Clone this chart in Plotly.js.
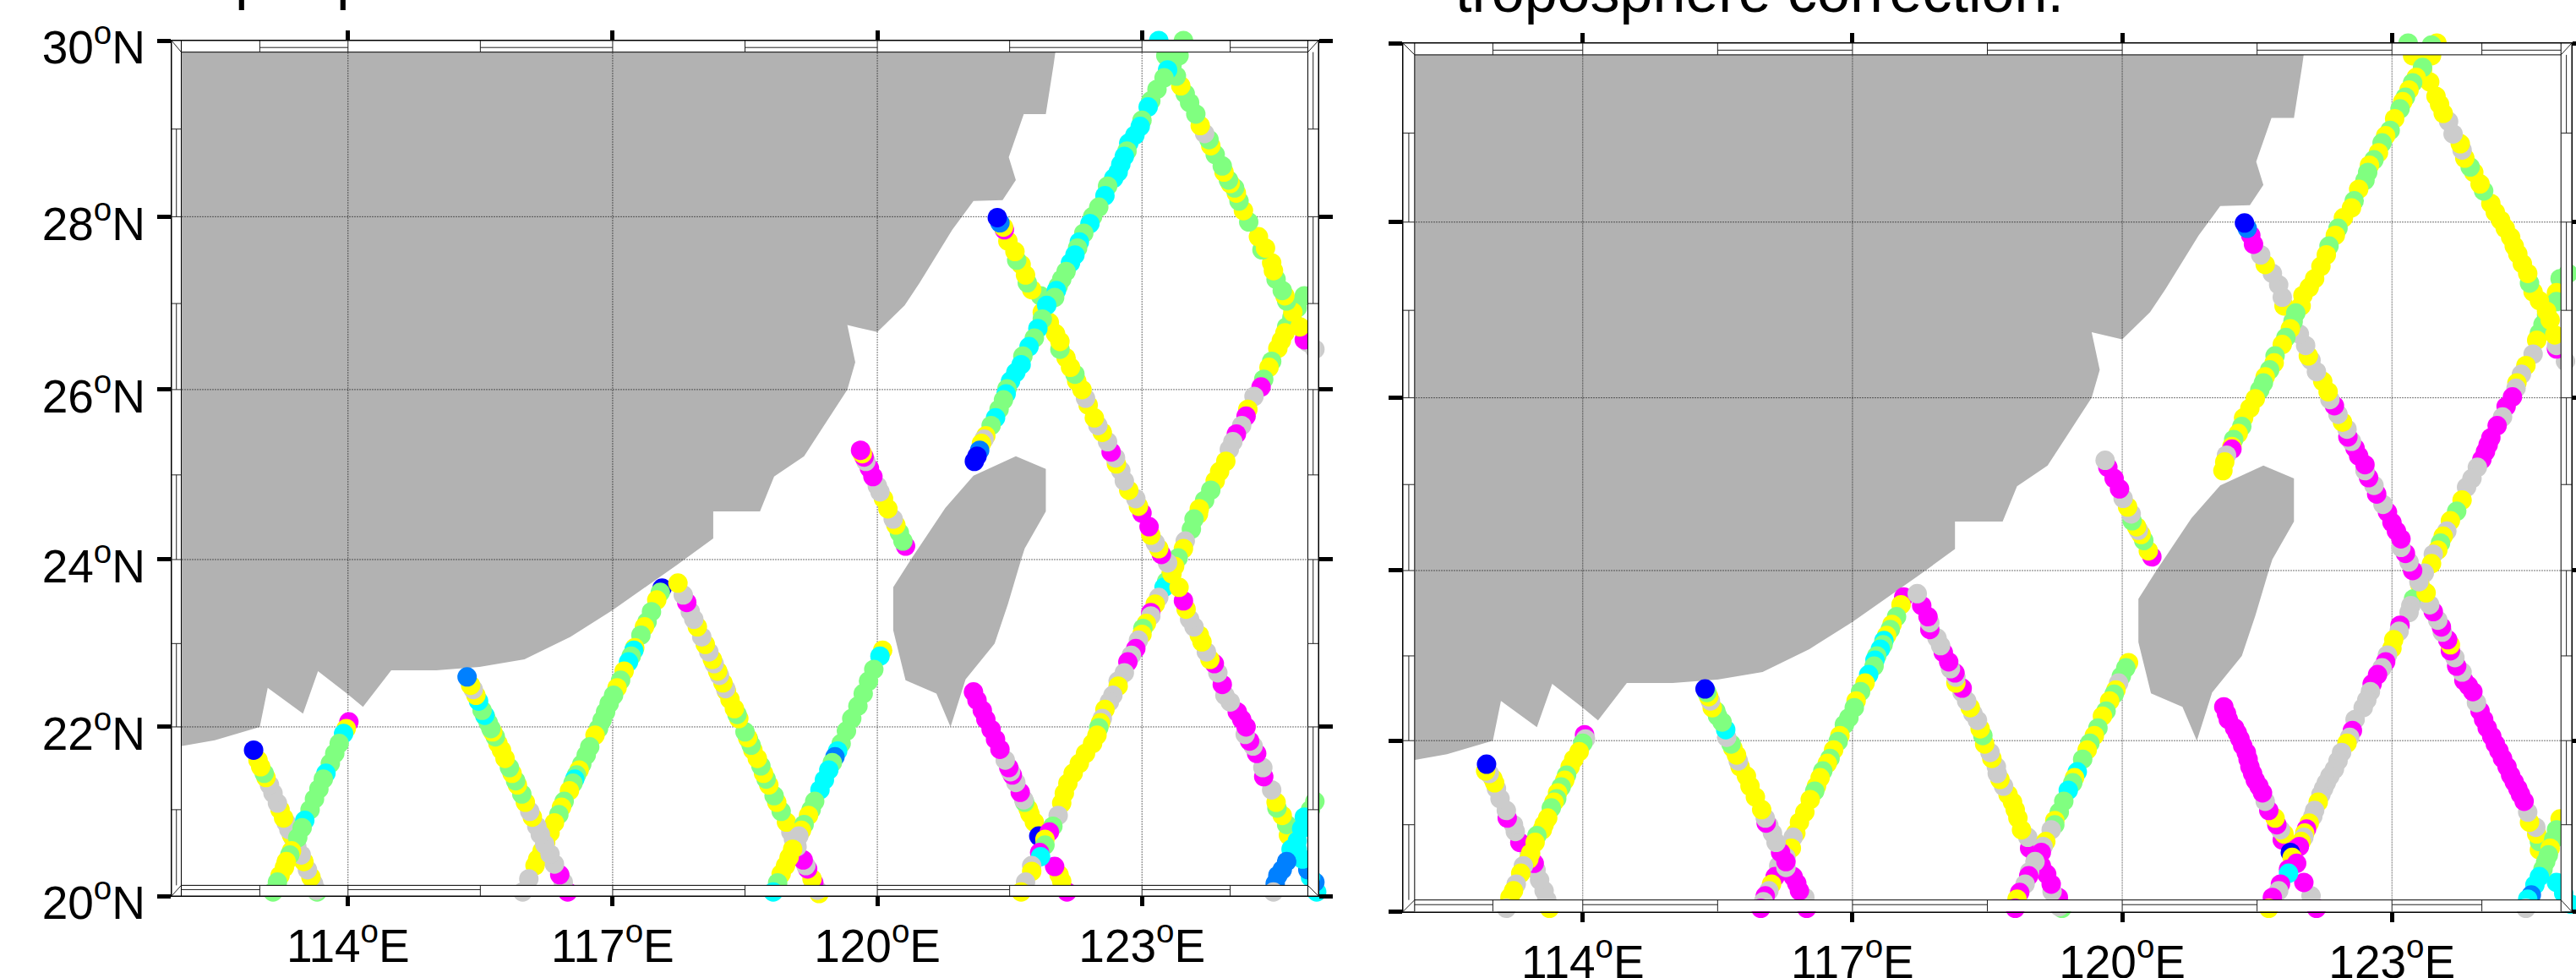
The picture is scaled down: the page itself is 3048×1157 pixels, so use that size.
<!DOCTYPE html>
<html><head><meta charset="utf-8">
<script src="https://cdn.plot.ly/plotly-3.0.1.min.js"></script>
<style>html,body{margin:0;padding:0;background:#fff;overflow:hidden}#c{width:3048px;height:1157px}</style>
</head><body><div id="c"></div>
<script>
// colour classes
const M=0,A=1,Y=2,G=3,C=4,Z=5,B=6;
const classColors=['#FF00FF','#CCCCCC','#FFFF00','#80FF80','#00FFFF','#0080FF','#0000FF'];

const lonTicks=[114,117,120,123];
const lonTickText=['114<sup>o</sup>E','117<sup>o</sup>E','120<sup>o</sup>E','123<sup>o</sup>E'];
const latGrid=[22,24,26,28];
const latTickText=['20<sup>o</sup>N','22<sup>o</sup>N','24<sup>o</sup>N','26<sup>o</sup>N','28<sup>o</sup>N','30<sup>o</sup>N'];

const mainlandLon=[122.05,122,121.91,121.66,121.49,121.57,121.42,121.09,120.85,120.48,120.31,120,119.66,119.75,119.66,119.4,119.17,118.83,118.68,118.67,118.14,118.14,117.72,117,116.52,116,115.49,115,114.49,114.17,114,113.66,113.49,113.09,113,112.49,112.12,111.9,111.9,122.1];
const mainlandLat=[30.1,29.74,29.17,29.17,28.68,28.42,28.19,28.18,27.85,27.24,26.98,26.67,26.75,26.32,26,25.58,25.22,24.98,24.6,24.57,24.57,24.25,23.93,23.4,23.08,22.81,22.72,22.68,22.68,22.24,22.39,22.67,22.16,22.47,22,21.84,21.77,21.74,30.1,30.1];
const taiwanLon=[121.57,121.91,121.91,121.67,121.63,121.48,121.33,121,120.83,120.67,120.32,120.18,120.18,120.38,120.77,121.09];
const taiwanLat=[25.22,25.07,24.57,24.13,24,23.47,23,22.57,22,22.4,22.56,23.16,23.67,24,24.61,24.99];

const cellLon=[113,114,115.5,117,118.5,120,121.5,123,124];
const cellLat=[21,22,23,24,25,26,27,28,29];
const topMid=[[113,114],[115.5,117],[118.5,120],[121.5,123],[124,125]];
const botMid=[[112,113],[114,115.5],[117,118.5],[120,121.5],[123,124]];
const leftMid=[[28,29],[26,27],[24,25],[22,23],[20,21]];
const rightMid=[[29,30],[27,28],[25,26],[23,24],[21,22]];

// ---- left panel tracks: [lat, lon, class]
const lA=[[20,113.65,G],[20.02,113.64,A],[20.1,113.61,A],[20.18,113.58,Y],[20.27,113.54,A],[20.37,113.5,Y],[20.45,113.47,A],[20.55,113.42,A],[20.65,113.38,A],[20.69,113.36,Y],[20.76,113.33,A],[20.84,113.3,A],[20.9,113.27,Y],[21,113.23,Y],[21.08,113.2,A],[21.2,113.15,A],[21.3,113.11,A],[21.39,113.07,Y],[21.44,113.05,G],[21.52,113.01,Y],[21.6,112.98,Y],[21.72,112.93,B]];
const lB=[[22.06,114.01,M],[21.98,113.98,Y],[21.92,113.95,C],[21.8,113.9,G],[21.68,113.85,G],[21.56,113.8,G],[21.44,113.75,C],[21.37,113.72,G],[21.25,113.67,G],[21.13,113.62,G],[21,113.57,G],[20.87,113.51,C],[20.78,113.48,G],[20.66,113.43,G],[20.5,113.36,Y],[20.45,113.34,G],[20.37,113.3,Y],[20.3,113.28,Y],[20.2,113.23,Y],[20.12,113.2,G],[20,113.15,G]];
const lD=[[23.66,117.56,B],[23.61,117.54,G],[23.52,117.5,Y],[23.38,117.44,G],[23.26,117.39,G],[23.2,117.36,Y],[23.1,117.32,G],[22.95,117.25,Y],[22.92,117.24,C],[22.85,117.21,G],[22.78,117.18,C],[22.67,117.13,Y],[22.56,117.09,G],[22.47,117.05,Y],[22.38,117.01,G],[22.28,116.96,G],[22.18,116.92,G],[22.08,116.88,G],[21.98,116.84,G],[21.9,116.8,Y],[21.76,116.74,G],[21.66,116.7,G],[21.55,116.65,G],[21.48,116.62,Y],[21.42,116.59,G],[21.37,116.57,C],[21.32,116.55,G],[21.23,116.51,Y],[21.1,116.45,G],[21.03,116.42,Y],[20.94,116.39,G],[20.84,116.34,Y],[20.72,116.29,Y],[20.6,116.24,Y],[20.5,116.2,Y],[20.4,116.15,Y],[20.32,116.12,Y],[20.16,116.05,A],[20,115.98,A]];
const lC=[[20,116.49,M],[20.12,116.44,A],[20.21,116.4,M],[20.34,116.34,A],[20.46,116.29,A],[20.58,116.23,A],[20.7,116.18,A],[20.8,116.14,A],[20.91,116.09,Y],[20.98,116.06,A],[21.09,116.01,Y],[21.19,115.97,G],[21.3,115.92,Y],[21.35,115.9,G],[21.44,115.86,Y],[21.51,115.83,G],[21.62,115.78,Y],[21.72,115.74,Y],[21.8,115.7,Y],[21.88,115.67,G],[21.94,115.64,Y],[21.98,115.62,G],[22.05,115.59,G],[22.12,115.56,G],[22.14,115.55,C],[22.2,115.52,G],[22.31,115.48,C],[22.38,115.45,Y],[22.45,115.42,A],[22.5,115.39,Y],[22.6,115.35,Z]];
const lE=[[19.98,119.34,Y],[20.02,119.32,A],[20.11,119.28,M],[20.16,119.26,Y],[20.28,119.21,M],[20.32,119.19,A],[20.39,119.16,M],[20.55,119.09,A],[20.64,119.05,A],[20.73,119.02,A],[20.85,118.97,Y],[20.98,118.91,G],[21.09,118.86,Y],[21.17,118.83,G],[21.3,118.77,Y],[21.37,118.74,G],[21.44,118.71,Y],[21.53,118.68,G],[21.62,118.64,Y],[21.72,118.59,Y],[21.78,118.57,G],[21.85,118.54,G],[21.87,118.53,Y],[21.94,118.5,G],[22.1,118.43,Y],[22.15,118.41,G],[22.22,118.38,Y],[22.33,118.33,Y],[22.43,118.29,Y],[22.46,118.28,A],[22.53,118.25,Y],[22.62,118.21,A],[22.67,118.19,Y],[22.76,118.15,A],[22.81,118.13,Y],[22.9,118.09,A],[22.99,118.05,Y],[23.08,118.01,A],[23.2,117.96,Y],[23.29,117.92,A],[23.38,117.88,A],[23.49,117.84,M],[23.58,117.8,A],[23.72,117.74,Y]];
const lF=[[22.92,120.06,Y],[22.85,120.03,C],[22.69,119.96,G],[22.55,119.9,G],[22.4,119.84,G],[22.25,119.78,G],[22.1,119.71,G],[21.95,119.65,G],[21.8,119.59,G],[21.71,119.55,C],[21.64,119.52,Z],[21.57,119.49,G],[21.48,119.45,C],[21.36,119.4,C],[21.24,119.35,C],[21.1,119.29,G],[21,119.25,G],[20.93,119.22,Y],[20.82,119.17,G],[20.75,119.14,Y],[20.68,119.11,A],[20.52,119.04,Y],[20.42,119,Y],[20.32,118.96,Y],[20.22,118.91,Y],[20.11,118.87,G],[20,118.82,C]];
const lG=[[24.16,120.32,M],[24.22,120.29,G],[24.32,120.25,G],[24.41,120.21,Y],[24.48,120.18,A],[24.6,120.12,Y],[24.72,120.07,Y],[24.8,120.03,A],[24.87,120,A],[24.98,119.95,M],[25.08,119.91,M],[25.16,119.87,A],[25.21,119.85,M],[25.25,119.83,Y],[25.29,119.81,M]];
const lH=[[20,122.15,M],[20.13,122.09,Y],[20.21,122.06,Y],[20.31,122.01,M],[20.85,121.78,Y],[20.95,121.73,Y],[21.01,121.71,Y],[21.09,121.67,G],[21.12,121.66,A],[21.21,121.62,M],[21.33,121.57,A],[21.42,121.53,M],[21.46,121.51,A],[21.51,121.49,M],[21.6,121.45,A],[21.73,121.39,M],[21.85,121.34,M],[21.97,121.29,M],[22.09,121.23,M],[22.2,121.19,M],[22.32,121.13,M],[22.42,121.09,M]];
const lL=[[27.45,125.04,G],[27.36,125.01,C],[27.09,124.84,G],[26.95,124.76,G],[26.84,124.7,G],[26.73,124.64,G],[26.66,124.62,Y],[26.57,124.58,Y],[26.48,124.54,Y],[26.33,124.47,G],[26.26,124.44,Y],[26.12,124.38,G],[26.03,124.35,M],[25.92,124.27,A],[25.77,124.2,Y],[25.69,124.18,M],[25.58,124.13,A],[25.48,124.07,M],[25.39,124.03,A],[25.3,123.99,A],[25.16,123.95,Y],[25.04,123.88,Y],[24.93,123.83,Y],[24.82,123.78,G],[24.7,123.71,G],[24.6,123.65,Y],[24.54,123.64,Y],[24.48,123.59,G],[24.36,123.56,G],[24.22,123.49,A],[24.13,123.47,Y],[24.02,123.41,G],[23.92,123.37,Y],[23.83,123.33,Y],[23.74,123.28,G],[23.67,123.25,C],[23.55,123.19,A],[23.47,123.15,Y],[23.37,123.1,M],[23.33,123.1,A],[23.24,123.05,Y],[23.18,123.01,G],[23.11,123,Y],[23.04,122.96,A],[22.94,122.93,M],[22.86,122.88,A],[22.78,122.84,M],[22.65,122.8,A],[22.55,122.73,A],[22.49,122.73,Y],[22.38,122.67,A],[22.3,122.63,A],[22.21,122.58,Y],[22.1,122.55,A],[22.05,122.53,Y],[21.99,122.51,G],[21.9,122.49,Y],[21.8,122.44,Y],[21.68,122.36,Y],[21.56,122.29,Y],[21.44,122.22,Y],[21.32,122.16,Y],[21.2,122.12,Y],[21.08,122.09,Y],[20.93,122.05,A],[20.8,121.99,G],[20.68,121.83,B],[20.73,121.95,M],[20.64,121.9,Y],[20.57,121.9,G],[20.48,121.84,M],[20.43,121.85,C],[20.32,121.75,A],[20.25,121.75,Y],[20.12,121.68,A],[20,121.63,Y]];
const lI=[[20,124.98,C],[20.12,124.96,Z],[20.18,124.91,C],[20.27,124.88,Z],[20.4,124.82,C],[20.52,124.76,C],[20.69,124.66,Y],[20.82,124.64,G],[20.93,124.59,Y],[21.02,124.53,G],[21.09,124.52,Y],[21.24,124.47,A],[21.4,124.38,M],[21.51,124.37,A],[21.68,124.3,M],[21.77,124.26,A],[21.83,124.22,M],[21.91,124.17,A],[22,124.18,M],[22.09,124.13,M],[22.18,124.08,M],[22.3,124,A],[22.38,123.94,A],[22.51,123.91,M],[22.65,123.86,A],[22.76,123.82,M],[22.81,123.77,Y],[22.9,123.73,A],[23.02,123.68,Y],[23.1,123.65,Y],[23.2,123.59,A],[23.29,123.54,A],[23.41,123.5,Y],[23.51,123.47,M],[23.67,123.42,Y],[23.83,123.34,Y],[23.96,123.29,A],[24.06,123.22,M],[24.13,123.19,Y],[24.2,123.15,A],[24.29,123.1,Y],[24.39,123.08,M],[24.55,123,M],[24.63,122.96,Y],[24.72,122.93,A],[24.82,122.85,Y],[24.93,122.8,A],[25.05,122.76,A],[25.13,122.71,Y],[25.2,122.7,A],[25.27,122.65,M],[25.39,122.61,A],[25.5,122.55,Y],[25.58,122.5,A],[25.67,122.46,Y],[25.82,122.39,Y],[25.9,122.36,A],[26,122.32,Y],[26.1,122.26,Y],[26.18,122.24,G],[26.26,122.19,Y],[26.37,122.14,Y],[26.47,122.07,G],[26.56,122.07,Y],[26.65,122.02,Y],[26.78,121.95,Y],[26.9,121.87,Y],[27.09,121.85,G],[27.16,121.75,Y],[27.24,121.7,G],[27.33,121.68,Y],[27.45,121.63,Y],[27.5,121.58,G],[27.6,121.56,Y],[27.72,121.48,Y],[27.85,121.44,M],[27.88,121.43,Y],[27.93,121.39,Z],[27.99,121.36,B]];
const lK=[[26.32,125.03,M],[26.39,125.03,Y],[26.47,124.96,A],[26.55,124.88,A],[26.58,124.84,M],[26.73,124.79,Y],[26.9,124.71,Y],[27.03,124.64,G],[27.09,124.62,Y],[27.15,124.59,G],[27.28,124.52,G],[27.38,124.49,Y],[27.47,124.47,Y],[27.62,124.36,G],[27.64,124.4,Y],[27.77,124.32,Y],[27.94,124.21,G],[28.07,124.15,Y],[28.18,124.1,G],[28.27,124.07,Y],[28.33,124.05,G],[28.38,124,Y],[28.42,123.98,G],[28.51,123.93,Y],[28.58,123.91,G],[28.71,123.83,G],[28.81,123.78,Y],[28.88,123.76,G],[28.95,123.71,A],[29.04,123.66,Y],[29.17,123.61,G],[29.3,123.54,G],[29.4,123.49,G],[29.49,123.44,Y],[29.6,123.39,G],[29.72,123.34,G],[29.83,123.27,G],[30,123.19,C]];
const lJ=[[30,123.47,G],[29.83,123.42,G],[29.67,123.29,C],[29.58,123.25,G],[29.45,123.17,G],[29.32,123.1,G],[29.25,123.07,C],[29.1,123,G],[29.03,122.98,C],[28.93,122.92,C],[28.84,122.85,C],[28.75,122.83,G],[28.69,122.8,C],[28.6,122.76,C],[28.51,122.73,C],[28.44,122.68,C],[28.35,122.61,G],[28.24,122.58,C],[28.11,122.51,G],[28,122.44,G],[27.92,122.41,C],[27.81,122.34,G],[27.71,122.29,C],[27.64,122.27,G],[27.56,122.24,C],[27.47,122.19,C],[27.37,122.14,G],[27.28,122.09,G],[27.2,122.05,G],[27.15,122.03,C],[27.07,122.01,G],[26.98,121.92,C],[26.82,121.87,G],[26.71,121.82,C],[26.6,121.78,G],[26.5,121.72,C],[26.39,121.65,G],[26.29,121.63,C],[26.2,121.57,C],[26.1,121.51,C],[26.01,121.47,G],[25.95,121.46,C],[25.88,121.43,G],[25.77,121.38,G],[25.67,121.34,C],[25.58,121.29,G],[25.46,121.23,Y],[25.42,121.21,A],[25.37,121.18,Y],[25.29,121.16,Z],[25.22,121.13,B],[25.16,121.1,B]];
const lM=[[21.25,125.03,A],[21.2,125.04,Y],[21.1,124.96,G],[21,124.91,G],[20.91,124.84,C],[20.77,124.81,C],[20.62,124.76,C],[20.52,124.69,C],[20.37,124.64,Z],[20.27,124.59,Z],[20.2,124.54,Z],[20.1,124.51,Z],[20,124.49,A]];

// ---- right panel tracks
const rA=[[20,113.63,Y],[20.1,113.6,A],[20.21,113.57,A],[20.34,113.52,A],[20.46,113.48,A],[20.54,113.46,M],[20.69,113.4,A],[20.79,113.3,M],[20.92,113.25,A],[21,113.23,A],[21.08,113.16,M],[21.17,113.15,A],[21.31,113.08,A],[21.43,113.04,A],[21.5,113.02,Y],[21.55,113,Y],[21.61,112.96,A],[21.64,112.92,Y],[21.72,112.93,B]];
const rB=[[22.07,114.02,M],[22.02,114.03,A],[21.97,114,G],[21.87,113.96,Y],[21.78,113.9,Y],[21.69,113.86,Y],[21.59,113.82,G],[21.53,113.8,Y],[21.45,113.76,G],[21.38,113.72,Y],[21.31,113.71,G],[21.27,113.68,Y],[21.2,113.65,G],[21.08,113.61,Y],[21,113.57,Y],[20.94,113.55,Y],[20.87,113.49,G],[20.79,113.47,Y],[20.66,113.42,Y],[20.59,113.4,Y],[20.51,113.34,A],[20.42,113.31,Y],[20.29,113.26,A],[20.21,113.23,Y],[20.13,113.19,Y],[20,113.15,A]];
const rD=[[23.69,117.57,M],[23.6,117.54,Y],[23.46,117.49,G],[23.37,117.44,Y],[23.31,117.42,G],[23.24,117.38,Y],[23.18,117.35,C],[23.13,117.34,G],[23.08,117.31,C],[23,117.27,G],[22.95,117.25,C],[22.88,117.24,G],[22.78,117.18,C],[22.68,117.14,Y],[22.58,117.09,G],[22.47,117.04,Y],[22.39,117.02,G],[22.27,116.96,G],[22.19,116.91,G],[22.06,116.86,Y],[21.99,116.84,G],[21.89,116.79,Y],[21.79,116.75,G],[21.73,116.72,Y],[21.64,116.67,G],[21.56,116.64,Y],[21.46,116.6,Y],[21.4,116.58,G],[21.3,116.53,Y],[21.15,116.47,Y],[21.03,116.41,Y],[20.9,116.37,Y],[20.85,116.34,A],[20.72,116.32,Y],[20.61,116.26,A],[20.51,116.18,A],[20.38,116.14,M],[20.29,116.1,Y],[20.21,116.07,A],[20.15,116.03,M],[20.08,116.01,A],[20,115.98,M]];
const rC=[[20,116.49,M],[20.13,116.47,A],[20.21,116.41,M],[20.3,116.38,M],[20.38,116.34,M],[20.49,116.26,A],[20.56,116.26,M],[20.67,116.2,M],[20.79,116.15,A],[20.9,116.11,A],[20.99,116.07,A],[21.02,116.04,M],[21.08,116.03,A],[21.18,115.99,Y],[21.33,115.92,Y],[21.46,115.86,Y],[21.58,115.82,Y],[21.69,115.75,Y],[21.76,115.73,A],[21.83,115.71,Y],[21.91,115.67,Y],[21.96,115.65,G],[22.04,115.6,A],[22.13,115.59,C],[22.22,115.55,G],[22.29,115.5,G],[22.35,115.48,G],[22.39,115.44,Y],[22.47,115.42,A],[22.52,115.4,Y],[22.57,115.38,G],[22.61,115.36,B]];
const rE=[[20,119.33,G],[20.02,119.3,A],[20.13,119.29,M],[20.2,119.22,A],[20.29,119.21,M],[20.41,119.16,M],[20.51,119.1,M],[20.62,119.04,M],[20.72,118.97,M],[20.85,118.95,A],[20.94,118.88,Y],[21.08,118.84,Y],[21.18,118.81,Y],[21.27,118.78,Y],[21.36,118.73,Y],[21.46,118.68,A],[21.54,118.64,Y],[21.61,118.61,A],[21.69,118.6,A],[21.79,118.55,Y],[21.86,118.53,A],[21.96,118.47,Y],[22.06,118.45,G],[22.14,118.42,Y],[22.24,118.39,A],[22.32,118.34,A],[22.39,118.31,Y],[22.47,118.27,A],[22.57,118.22,A],[22.62,118.22,M],[22.68,118.15,Y],[22.75,118.15,A],[22.8,118.14,M],[22.85,118.09,A],[22.93,118.07,M],[23.04,118.01,M],[23.12,117.98,A],[23.21,117.94,A],[23.31,117.86,M],[23.39,117.86,A],[23.46,117.84,M],[23.59,117.77,M],[23.73,117.72,A]];
const rF=[[22.92,120.07,Y],[22.86,120.04,G],[22.76,119.99,G],[22.68,119.96,A],[22.6,119.93,Y],[22.55,119.91,G],[22.47,119.86,Y],[22.35,119.82,G],[22.29,119.78,Y],[22.15,119.73,G],[22.06,119.69,Y],[21.97,119.64,G],[21.89,119.61,Y],[21.78,119.56,G],[21.63,119.5,C],[21.56,119.47,Y],[21.5,119.45,G],[21.41,119.4,C],[21.28,119.35,G],[21.15,119.3,G],[21.05,119.25,Y],[21,119.25,G],[20.94,119.21,A],[20.8,119.15,Y],[20.74,119.12,A],[20.67,119.1,M],[20.56,119.03,A],[20.44,118.97,A],[20.39,118.96,M],[20.29,118.92,A],[20.19,118.86,M],[20.11,118.83,Y],[20,118.81,M]];
const rG=[[24.16,120.33,M],[24.23,120.29,Y],[24.35,120.24,G],[24.42,120.21,Y],[24.47,120.18,A],[24.51,120.16,Y],[24.58,120.11,G],[24.66,120.1,A],[24.74,120.06,Y],[24.84,120.01,A],[24.95,119.97,M],[25.07,119.91,M],[25.2,119.84,M],[25.28,119.81,A]];
const rH=[[20,122.16,M],[20.15,122.1,A],[20.31,122.02,M],[20.82,121.78,M],[20.89,121.8,Y],[20.94,121.76,A],[21,121.72,M],[21.08,121.7,Y],[21.17,121.63,M],[21.28,121.59,A],[21.38,121.56,M],[21.46,121.52,M],[21.53,121.48,M],[21.61,121.45,M],[21.69,121.42,M],[21.78,121.4,M],[21.86,121.38,M],[21.94,121.34,M],[22.02,121.31,M],[22.09,121.28,M],[22.15,121.25,M],[22.25,121.18,M],[22.32,121.16,M],[22.4,121.13,M]];
const rL=[[27.52,125.04,G],[27.42,124.96,G],[27.36,124.87,G],[27.2,124.83,Y],[27.1,124.83,G],[26.95,124.72,G],[26.84,124.68,G],[26.74,124.64,G],[26.66,124.61,Y],[26.5,124.57,A],[26.37,124.49,Y],[26.27,124.44,A],[26.17,124.39,Y],[26.11,124.38,A],[26.01,124.34,M],[25.9,124.27,M],[25.78,124.23,A],[25.68,124.17,M],[25.54,124.1,M],[25.46,124.07,M],[25.38,124.04,M],[25.29,124,M],[25.2,123.95,A],[25.07,123.89,A],[24.97,123.83,A],[24.82,123.78,Y],[24.69,123.72,G],[24.58,123.65,Y],[24.46,123.61,A],[24.4,123.57,Y],[24.32,123.54,G],[24.24,123.51,Y],[24.19,123.46,A],[24.08,123.44,Y],[23.97,123.36,A],[23.84,123.31,Y],[23.67,123.24,G],[23.59,123.21,A],[23.51,123.19,A],[23.36,123.09,M],[23.29,123.08,A],[23.19,123.02,Y],[23.09,123,Y],[23.01,122.95,A],[22.93,122.93,M],[22.86,122.89,A],[22.78,122.84,M],[22.67,122.78,M],[22.58,122.76,A],[22.48,122.72,A],[22.39,122.68,A],[22.25,122.59,A],[22.12,122.56,M],[22.04,122.53,A],[21.97,122.5,Y],[21.86,122.44,A],[21.76,122.4,A],[21.66,122.36,A],[21.58,122.31,A],[21.5,122.27,A],[21.43,122.24,A],[21.36,122.21,A],[21.27,122.18,Y],[21.17,122.14,A],[21.1,122.12,A],[21.02,122.08,Y],[20.95,122.05,M],[20.9,122.03,Y],[20.85,122.02,A],[20.8,121.99,Y],[20.74,121.97,M],[20.67,121.87,B],[20.61,121.89,Y],[20.54,121.94,M],[20.47,121.85,M],[20.42,121.85,C],[20.29,121.76,M],[20.21,121.74,A],[20.13,121.67,M],[20,121.63,Y]];
const rI=[[20.05,124.99,C],[20.18,124.91,C],[20.31,124.83,C],[20.7,124.64,Y],[20.8,124.64,G],[20.89,124.61,Y],[20.97,124.6,A],[21.03,124.53,Y],[21.15,124.51,A],[21.28,124.47,M],[21.36,124.43,M],[21.43,124.4,M],[21.51,124.36,M],[21.59,124.32,M],[21.69,124.28,M],[21.79,124.23,M],[21.88,124.19,M],[21.96,124.15,M],[22.05,124.11,M],[22.15,124.06,M],[22.25,124.02,M],[22.35,123.98,M],[22.45,123.94,A],[22.58,123.9,M],[22.65,123.85,M],[22.71,123.8,M],[22.81,123.78,A],[22.88,123.72,M],[22.98,123.7,A],[23.06,123.65,M],[23.13,123.65,Y],[23.19,123.62,M],[23.28,123.56,A],[23.34,123.55,M],[23.42,123.51,A],[23.52,123.46,M],[23.6,123.42,A],[23.74,123.38,Y],[23.87,123.3,A],[24,123.23,M],[24.1,123.19,A],[24.2,123.15,M],[24.27,123.1,A],[24.37,123.1,M],[24.46,123.05,M],[24.56,123,M],[24.68,122.95,M],[24.77,122.9,A],[24.89,122.83,M],[24.99,122.8,A],[25.08,122.74,M],[25.16,122.7,A],[25.23,122.7,M],[25.33,122.63,M],[25.42,122.59,M],[25.5,122.55,A],[25.55,122.51,M],[25.64,122.5,A],[25.72,122.45,Y],[25.81,122.4,A],[25.91,122.36,M],[25.98,122.31,A],[26.07,122.29,Y],[26.19,122.23,Y],[26.3,122.16,A],[26.43,122.1,A],[26.48,122.07,Y],[26.6,122.04,A],[26.73,121.97,A],[26.88,121.9,A],[27.05,121.8,Y],[27.15,121.78,A],[27.29,121.74,A],[27.42,121.67,A],[27.52,121.59,Y],[27.63,121.54,A],[27.75,121.46,M],[27.85,121.43,M],[27.93,121.39,Z],[27.99,121.36,B]];
const rK=[[26.3,125.02,M],[26.42,124.93,A],[26.56,124.83,M],[26.6,124.83,A],[26.72,124.81,Y],[26.89,124.76,Y],[26.99,124.72,Y],[27.11,124.64,Y],[27.21,124.57,Y],[27.31,124.53,G],[27.42,124.51,Y],[27.53,124.45,Y],[27.64,124.4,Y],[27.73,124.36,Y],[27.83,124.32,Y],[27.93,124.26,Y],[28.02,124.21,Y],[28.11,124.15,Y],[28.21,124.1,Y],[28.35,124.02,G],[28.43,123.98,Y],[28.56,123.91,Y],[28.62,123.87,G],[28.72,123.81,Y],[28.81,123.78,A],[28.88,123.76,Y],[28.99,123.68,A],[29.13,123.63,A],[29.22,123.57,Y],[29.32,123.53,Y],[29.41,123.49,Y],[29.57,123.42,Y],[29.7,123.34,Y],[29.86,123.23,Y],[30,123.18,G]];
const rJ=[[30,123.5,Y],[29.98,123.44,G],[29.86,123.44,Y],[29.73,123.34,G],[29.62,123.27,Y],[29.56,123.23,G],[29.48,123.19,Y],[29.4,123.15,G],[29.35,123.12,Y],[29.27,123.09,G],[29.16,123.03,Y],[29.03,122.98,G],[28.97,122.93,Y],[28.89,122.89,G],[28.78,122.85,Y],[28.7,122.8,G],[28.64,122.75,Y],[28.56,122.73,G],[28.47,122.7,G],[28.37,122.63,Y],[28.24,122.58,G],[28.16,122.55,Y],[28.05,122.46,Y],[27.93,122.4,G],[27.85,122.37,Y],[27.73,122.3,G],[27.63,122.27,Y],[27.5,122.21,Y],[27.36,122.14,Y],[27.26,122.08,Y],[27.17,122.01,Y],[27.05,121.99,Y],[26.97,121.93,G],[26.87,121.9,G],[26.79,121.87,Y],[26.69,121.82,G],[26.61,121.78,Y],[26.48,121.7,G],[26.4,121.69,Y],[26.32,121.64,G],[26.24,121.59,Y],[26.17,121.57,G],[26.09,121.53,G],[25.99,121.48,Y],[25.88,121.42,Y],[25.77,121.35,Y],[25.67,121.33,G],[25.59,121.29,Y],[25.52,121.24,G],[25.44,121.22,Y],[25.41,121.22,M],[25.34,121.16,A],[25.26,121.14,Y],[25.16,121.12,Y]];
const rM=[[21.28,125.04,M],[21.1,125.04,Y],[21.07,124.87,Y],[20.94,124.83,G],[20.83,124.8,G],[20.72,124.76,Y],[20.64,124.74,G],[20.56,124.71,G],[20.47,124.68,G],[20.38,124.64,C],[20.28,124.59,C],[20.16,124.55,Z],[20.11,124.51,C],[20,124.49,A]];

const leftTracks=[lA,lB,lD,lC,lE,lF,lG,lH,lL,lI,lK,lJ,lM];
const rightTracks=[rA,rB,rD,rC,rE,rF,rG,rH,rL,rI,rK,rJ,rM];

const merc=d=>Math.log(Math.tan(Math.PI/4+d*Math.PI/360));
const W=3048,H=1157;
const panels=[
 {ax:'',px:[203,1560],py:[48,1060],tracks:leftTracks,south:19.95,inLon:[112.11,124.88],inLat:[20.08,29.87],yLabels:true},
 {ax:'2',px:[1660,3043],py:[51,1078.5],tracks:rightTracks,south:19.96,inLon:[112.13,124.88],inLat:[20.1,29.87],yLabels:false}
];
const titleFont={family:'Liberation Sans',size:70,color:'#000'};
const data=[],shapes=[],layout={width:W,height:H,margin:{l:0,r:0,t:0,b:0},paper_bgcolor:'#fff',plot_bgcolor:'#fff',showlegend:false,shapes,
 annotations:[
  {text:'troposphere correction.',xref:'paper',yref:'paper',x:1720/W,y:1-31/H,xanchor:'left',yanchor:'bottom',showarrow:false,font:titleFont},
  {text:'p',xref:'paper',yref:'paper',x:276/W,y:1-14/H,xanchor:'left',yanchor:'bottom',showarrow:false,font:titleFont},
  {text:'p',xref:'paper',yref:'paper',x:396/W,y:1-14/H,xanchor:'left',yanchor:'bottom',showarrow:false,font:titleFont}
 ]};

panels.forEach(p=>{
 const xa='x'+p.ax,ya='y'+p.ax;
 const top=merc(30),bot=merc(p.south);
 const base={xaxis:xa,yaxis:ya,hoverinfo:'skip',showlegend:false};
 const land=(lo,la)=>({...base,type:'scatter',mode:'lines',x:lo,y:la.map(merc),fill:'toself',fillcolor:'#B2B2B2',line:{width:0,color:'#B2B2B2'}});
 data.push(land(mainlandLon,mainlandLat),land(taiwanLon,taiwanLat));
 const gx=[],gy=[];
 lonTicks.forEach(l=>{gx.push(l,l,null);gy.push(bot,top,null);});
 latGrid.forEach(l=>{gx.push(112,125,null);gy.push(merc(l),merc(l),null);});
 data.push({...base,type:'scatter',mode:'lines',x:gx,y:gy,line:{color:'rgba(0,0,0,0.55)',width:1,dash:'2px,1px'}});
 p.tracks.forEach(t=>data.push({...base,type:'scatter',mode:'markers',cliponaxis:false,
   x:t.map(r=>r[1]),y:t.map(r=>merc(r[0])),
   marker:{size:23,color:t.map(r=>classColors[r[2]]),line:{width:0}}}));

 // fancy frame
 const iT=merc(p.inLat[1]),iB=merc(p.inLat[0]),iL=p.inLon[0],iR=p.inLon[1];
 const rect=(x0,x1,y0,y1)=>shapes.push({type:'rect',xref:xa,yref:ya,layer:'above',x0,x1,y0,y1,fillcolor:'#fff',line:{color:'#000',width:1}});
 const seg=(x0,y0,x1,y1)=>shapes.push({type:'line',xref:xa,yref:ya,layer:'above',x0,y0,x1,y1,line:{color:'#222',width:1}});
 rect(112,125,iT,top);rect(112,125,bot,iB);rect(112,iL,bot,top);rect(iR,125,bot,top);
 cellLon.forEach(l=>{seg(l,iT,l,top);seg(l,bot,l,iB);});
 cellLat.forEach(l=>{const m=merc(l);seg(112,m,iL,m);seg(iR,m,125,m);});
 const mT=top+(iT-top)*0.6,mB=bot+(iB-bot)*0.6,mL=(112+iL)/2,mR=(125+iR)/2;
 topMid.forEach(c=>seg(Math.max(c[0],iL),mT,Math.min(c[1],iR),mT));
 botMid.forEach(c=>seg(Math.max(c[0],iL),mB,Math.min(c[1],iR),mB));
 leftMid.forEach(c=>seg(mL,Math.max(merc(c[0]),iB),mL,Math.min(merc(c[1]),iT)));
 rightMid.forEach(c=>seg(mR,Math.max(merc(c[0]),iB),mR,Math.min(merc(c[1]),iT)));
 seg(112,top,iL,iT);seg(125,top,iR,iT);seg(112,bot,iL,iB);seg(125,bot,iR,iB);

 const font={family:'Liberation Sans',size:55,color:'#000'};
 layout['xaxis'+p.ax]={anchor:ya,domain:[p.px[0]/W,p.px[1]/W],range:[112,125],tickmode:'array',tickvals:lonTicks,ticktext:lonTickText,tickfont:font,
   ticks:'outside',ticklen:11,tickwidth:5,tickcolor:'#000',showgrid:false,zeroline:false,showline:true,linecolor:'#000',linewidth:1,mirror:'ticks',ticklabelstandoff:0};
 layout['yaxis'+p.ax]={anchor:xa,domain:[1-p.py[1]/H,1-p.py[0]/H],range:[bot,top],tickmode:'array',showticklabels:p.yLabels,
   tickvals:[p.south,22,24,26,28,30].map(merc),ticktext:latTickText,tickfont:font,
   ticks:'outside',ticklen:16,tickwidth:5,tickcolor:'#000',showgrid:false,zeroline:false,showline:true,linecolor:'#000',linewidth:1,mirror:'ticks',ticklabelstandoff:3,ticklabelshift:8};
});
Plotly.newPlot('c',data,layout,{staticPlot:true,displayModeBar:false});
</script></body></html>
